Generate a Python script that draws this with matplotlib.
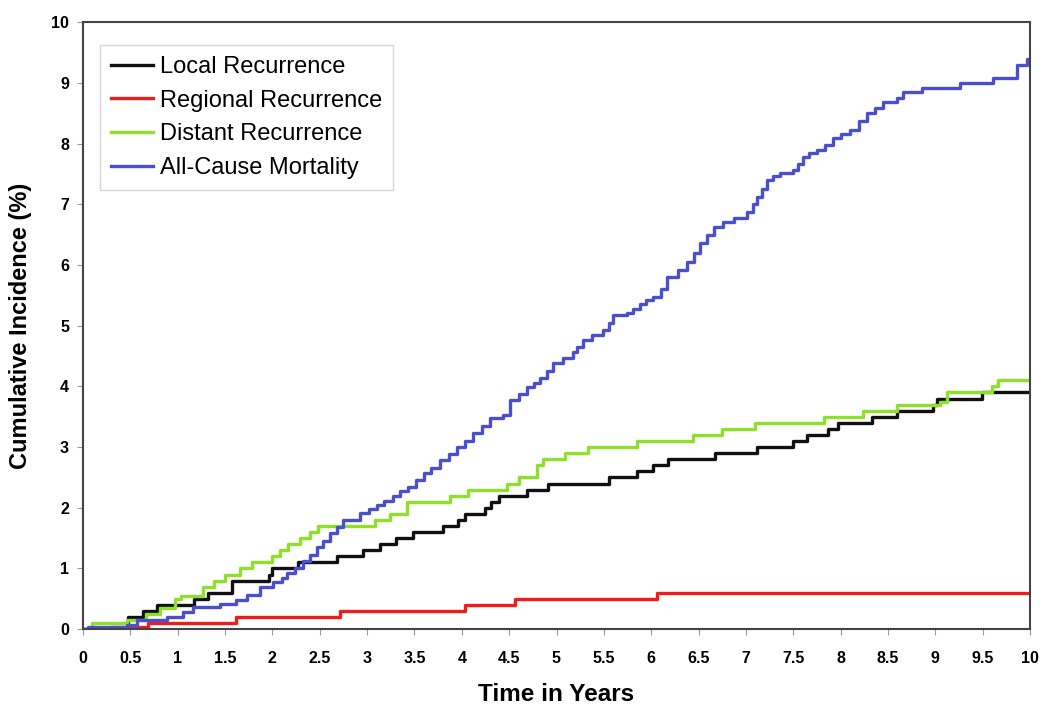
import matplotlib
matplotlib.use("Agg")
import matplotlib.pyplot as plt

plt.rcParams['font.family'] = ['Liberation Sans', 'DejaVu Sans']

# step functions: (time in years, cumulative incidence %) - value holds until next time
local_t = [0, 0.48, 0.63, 0.78, 1.17, 1.32, 1.57, 1.96, 2.0, 2.27, 2.68, 2.96, 3.14, 3.31, 3.49,
           3.8, 3.96, 4.03, 4.25, 4.31, 4.39, 4.69, 4.91, 5.55, 5.85, 6.02, 6.18, 6.67, 7.12,
           7.5, 7.65, 7.87, 7.97, 8.33, 8.6, 8.98, 9.02, 9.49, 10]
local_v = [0, 0.2, 0.3, 0.4, 0.5, 0.6, 0.8, 0.9, 1.0, 1.1, 1.2, 1.3, 1.4, 1.5, 1.6,
           1.7, 1.8, 1.9, 2.0, 2.1, 2.2, 2.3, 2.4, 2.5, 2.6, 2.7, 2.8, 2.9, 3.0,
           3.1, 3.2, 3.3, 3.4, 3.5, 3.6, 3.7, 3.8, 3.9, 3.9]

regional_t = [0, 0.3, 0.69, 1.62, 2.71, 4.03, 4.56, 6.06, 10]
regional_v = [0, 0.03, 0.1, 0.2, 0.3, 0.4, 0.5, 0.6, 0.6]

distant_t = [0, 0.1, 0.46, 0.67, 0.81, 0.97, 1.04, 1.27, 1.38, 1.5, 1.66, 1.78, 2.0, 2.08,
             2.17, 2.29, 2.4, 2.48, 3.08, 3.24, 3.42, 3.88, 4.07, 4.48, 4.6, 4.79, 4.86,
             5.09, 5.33, 5.85, 6.44, 6.75, 7.1, 7.82, 8.24, 8.6, 9.05, 9.12, 9.6, 9.66, 10]
distant_v = [0, 0.1, 0.15, 0.25, 0.35, 0.5, 0.55, 0.7, 0.8, 0.9, 1.0, 1.1, 1.2, 1.3,
             1.4, 1.5, 1.6, 1.7, 1.8, 1.9, 2.1, 2.2, 2.3, 2.4, 2.5, 2.7, 2.8,
             2.9, 3.0, 3.1, 3.2, 3.3, 3.4, 3.5, 3.6, 3.7, 3.75, 3.9, 4.0, 4.1, 4.1]

mort_t = [0, 0.05, 0.46, 0.57, 0.89, 1.06, 1.16, 1.45, 1.62, 1.73, 1.87, 2.01, 2.1, 2.15,
          2.24, 2.32, 2.4, 2.47, 2.53, 2.61, 2.68, 2.75, 2.93, 3.02, 3.1, 3.18, 3.27, 3.35,
          3.43, 3.52, 3.6, 3.68, 3.77, 3.86, 3.95, 4.03, 4.12, 4.21, 4.3, 4.44, 4.51, 4.6,
          4.69, 4.76, 4.83, 4.9, 4.96, 5.07, 5.17, 5.22, 5.28, 5.38, 5.49, 5.55, 5.6, 5.74,
          5.81, 5.88, 5.95, 6.02, 6.1, 6.17, 6.28, 6.38, 6.45, 6.52, 6.59, 6.66, 6.76, 6.87,
          7.01, 7.07, 7.12, 7.17, 7.22, 7.29, 7.36, 7.5, 7.55, 7.6, 7.67, 7.75, 7.83, 7.92,
          8.0, 8.1, 8.19, 8.28, 8.36, 8.45, 8.6, 8.66, 8.86, 9.26, 9.61, 9.86, 9.97, 10]
mort_v = [0, 0.03, 0.07, 0.15, 0.2, 0.28, 0.37, 0.42, 0.48, 0.56, 0.69, 0.78, 0.85, 0.92,
          1.0, 1.13, 1.22, 1.35, 1.45, 1.58, 1.68, 1.8, 1.91, 1.98, 2.04, 2.12, 2.2, 2.28,
          2.34, 2.45, 2.57, 2.65, 2.78, 2.88, 3.0, 3.1, 3.23, 3.35, 3.48, 3.53, 3.77, 3.88,
          3.99, 4.05, 4.13, 4.25, 4.38, 4.47, 4.56, 4.65, 4.76, 4.85, 4.93, 5.05, 5.17, 5.21,
          5.28, 5.36, 5.42, 5.47, 5.6, 5.8, 5.92, 6.05, 6.2, 6.36, 6.5, 6.62, 6.7, 6.77,
          6.87, 7.0, 7.12, 7.25, 7.4, 7.46, 7.51, 7.56, 7.66, 7.78, 7.84, 7.89, 7.98, 8.1,
          8.15, 8.22, 8.37, 8.5, 8.58, 8.68, 8.75, 8.85, 8.91, 9.0, 9.08, 9.29, 9.4, 9.4]

series = [
    ("Local Recurrence", local_t, local_v, "#111111"),
    ("Regional Recurrence", regional_t, regional_v, "#ee1c1c"),
    ("Distant Recurrence", distant_t, distant_v, "#8ee02a"),
    ("All-Cause Mortality", mort_t, mort_v, "#4a4fd0"),
]

fig = plt.figure(figsize=(10.5, 7.15), dpi=100)
ax = fig.add_axes([0.079, 0.12, 0.902, 0.849])

for name, t, v, c in series:
    ax.plot(t, v, drawstyle="steps-post", color=c, lw=2.4, label=name)

ax.set_xlim(0, 10)
ax.set_ylim(0, 10)
xt = [i * 0.5 for i in range(21)]
ax.set_xticks(xt)
ax.set_xticklabels([("%g" % x) for x in xt])
ax.set_yticks(range(11))
ax.tick_params(labelsize=11.5, length=4, width=0.8, color="#999999")
ax.tick_params(axis="x", pad=12)
ax.tick_params(axis="y", pad=6)
for lab in ax.get_xticklabels() + ax.get_yticklabels():
    lab.set_fontweight("bold")
for s in ax.spines.values():
    s.set_color("#444444")
    s.set_linewidth(1.5)

ax.set_xlabel("Time in Years", fontsize=17.5, fontweight="bold", labelpad=12)
ax.set_ylabel("Cumulative Incidence (%)", fontsize=17, fontweight="bold", labelpad=14)

leg = ax.legend(loc="upper left", bbox_to_anchor=(0.018, 0.962), fontsize=17,
                frameon=True, fancybox=False, handlelength=1.8, handletextpad=0.3,
                borderpad=0.45, labelspacing=0.5, borderaxespad=0)
leg.get_frame().set_edgecolor("#cccccc")
leg.get_frame().set_linewidth(1.0)

fig.savefig("out.png", dpi=100)
